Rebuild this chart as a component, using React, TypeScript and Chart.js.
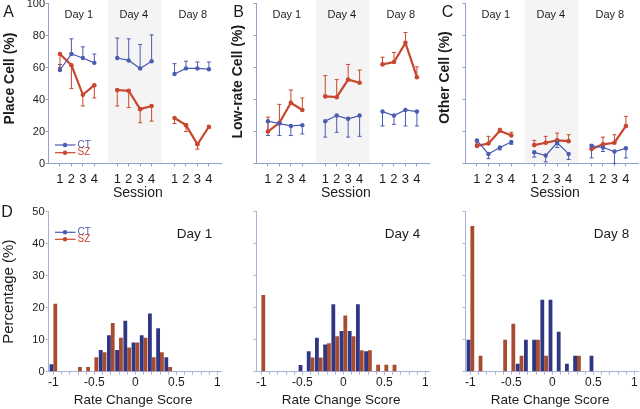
import React, { useEffect, useRef } from "react";
import { Chart, registerables } from "chart.js";

Chart.register(...registerables);

const FONT = "'Liberation Sans', Arial, Helvetica, sans-serif";
const TEXT = "#1c1c1c";
const CT_LINE = "#4a5cb0";
const SZ_LINE = "#c8472e";
const CT_BAR = "#2f3785";
const SZ_BAR = "#a84c30";
const AXIS = "#93a0d2";
const AXIS_D = "#aab2da";
const SHADE = "#f4f4f4";

// ---------------- data: top row (A, B, C) ----------------
const sessionX = [1, 2, 3, 4, 6, 7, 8, 9, 11, 12, 13, 14];
const sessionLabels = ["1", "2", "3", "4", "1", "2", "3", "4", "1", "2", "3", "4"];
const dayNames = ["Day 1", "Day 4", "Day 8"];
const dayLabelX = [2.65, 7.45, 12.6];
const day4Band = [5.2, 9.85];
const yTicksTop = [0, 20, 40, 60, 80, 100];

const placeCT = [58.5, 68.5, 66, 63, 66, 64.5, 59.5, 64, 56, 59.5, 59.5, 59];
const placeCTErr = [62, 78, 73, 68.5, 78.5, 78, 74.5, 80.5, 62.5, 64, 63.5, 63.5];
const placeSZ = [68.5, 61.5, 43, 49, 46, 45.5, 34, 36, 28.5, 24, 12, 23];
const placeSZErr = [60, 47, 36, 41, 36, 35, 25.5, 26.5, 25, 20, 9, 22];

const lowCT = [26.5, 25, 23.5, 24, 26.5, 30, 28, 30, 32.5, 30, 33.5, 32.5];
const lowCTErr = [17.5, 17.5, 17.5, 18.5, 16.5, 19.5, 16.5, 17, 23.5, 24.5, 23.5, 23.5];
const lowSZ = [20, 25.5, 38, 33.5, 42, 41.5, 52.5, 50.5, 62, 63.5, 75.5, 54];
const lowSZErr = [29, 37, 46, 41, 55, 52.5, 62, 58.5, 66.5, 69.5, 82, 60.5];

const otherCT = [14.5, 6, 10, 13.5, 7, 5, 13, 6, 11, 10, 7.5, 9.5];
const otherCTErr = [12, 3, 8.5, 12, 4, 1, 10, 2.5, 3.5, 7.5, 0, 3.5];
const otherSZ = [11, 12.5, 20.5, 17.5, 11.5, 13, 14.5, 14, 9, 12, 13, 23.5];
const otherSZErr = [13, 17, 22, 19.5, 14.5, 17, 19, 18, 12, 16.5, 18, 29.5];

// ---------------- data: bottom row (D) ----------------
const rateBins = [-1, -0.9, -0.8, -0.7, -0.6, -0.5, -0.4, -0.3, -0.2, -0.1, 0, 0.1, 0.2, 0.3, 0.4, 0.5, 0.6, 0.7, 0.8, 0.9, 1];
const rateTickValues = [-1, -0.5, 0, 0.5, 1];
const rateTickLabels = ["-1", "-0.5", "0", "0.5", "1"];
const yTicksHist = [0, 10, 20, 30, 40, 50];

const day1CT = [2.3, 0, 0, 0, 0, 0, 6.8, 11.4, 6.8, 15.9, 9.1, 11.4, 18.2, 13.6, 4.5, 0, 0, 0, 0, 0, 0];
const day1SZ = [21.2, 0, 0, 1.5, 1.5, 4.5, 6.1, 15.2, 10.6, 7.6, 9.1, 10.6, 4.5, 6.1, 1.5, 0, 0, 0, 0, 0, 0];
const day4CT = [0, 0, 0, 0, 0, 2.1, 6.4, 10.6, 8.5, 21.1, 12.7, 12.7, 21.1, 6.4, 0, 0, 0, 0, 0, 0, 0];
const day4SZ = [24.0, 0, 0, 0, 0, 0, 4.4, 4.4, 8.9, 11.1, 17.6, 11.1, 6.7, 6.7, 2.2, 2.2, 2.2, 0, 0, 0, 0];
const day8CT = [10, 0, 0, 0, 0, 0, 2.5, 10, 10, 22.5, 22.5, 12.5, 2.5, 5, 0, 5, 0, 0, 0, 0, 0];
const day8SZ = [45.5, 5, 0, 0, 10, 15, 5, 0, 10, 5, 0, 0, 0, 5, 0, 0, 0, 0, 0, 0, 0];

// ---------------- layout ----------------
const colLeft = [48.5, 256.5, 465.5];
const Y_AXIS_W = 48.5;
const AREA_W = 173;
const CANVAS_W = 226;

type Txt = { t: string; x: number; y: number; size: number; bold?: boolean; rot?: boolean; color?: string; align?: CanvasTextAlign };

function drawText(ctx: CanvasRenderingContext2D, s: Txt, ox: number, oy: number) {
  ctx.save();
  ctx.font = `${s.bold ? "bold " : ""}${s.size}px ${FONT}`;
  ctx.fillStyle = s.color || TEXT;
  ctx.textAlign = s.align || "center";
  ctx.textBaseline = "middle";
  ctx.translate(s.x - ox, s.y - oy);
  if (s.rot) ctx.rotate(-Math.PI / 2);
  ctx.fillText(s.t, 0, 0);
  ctx.restore();
}

function drawLegend(ctx: CanvasRenderingContext2D, ox: number, oy: number, y1: number, y2: number) {
  const items = [
    { label: "CT", color: CT_LINE, y: y1 },
    { label: "SZ", color: SZ_LINE, y: y2 },
  ];
  for (const it of items) {
    ctx.save();
    ctx.strokeStyle = it.color;
    ctx.lineWidth = 1.2;
    ctx.beginPath();
    ctx.moveTo(55 - ox, it.y - oy);
    ctx.lineTo(75.5 - ox, it.y - oy);
    ctx.stroke();
    ctx.fillStyle = it.color;
    ctx.beginPath();
    ctx.arc(65 - ox, it.y - oy, 2.2, 0, Math.PI * 2);
    ctx.fill();
    ctx.restore();
    drawText(ctx, { t: it.label, x: 77.5, y: it.y, size: 10, color: it.color, align: "left" }, ox, oy);
  }
}

function toPoints(vals: number[]) {
  const pts: { x: number; y: number | null }[] = [];
  vals.forEach((v, i) => {
    pts.push({ x: sessionX[i], y: v });
    if (i === 3 || i === 7) pts.push({ x: sessionX[i] + 1, y: null });
  });
  return pts;
}

type LineSpec = {
  col: number;
  letter: string;
  letterPos: [number, number];
  yTitle: string;
  yTitlePos: [number, number];
  ct: number[];
  ctErr: number[];
  sz: number[];
  szErr: number[];
  yLabels: boolean;
  legend: boolean;
};

const TOP_CANVAS_TOP = -20;
const TOP_CANVAS_H = 240;
const TOP_AREA_TOP = 3.7;
const TOP_AREA_BOTTOM = 163.5;

function buildLine(spec: LineSpec, ox: number, oy: number): any {
  const overlay = {
    id: "overlay",
    beforeDraw(chart: any) {
      const ctx = chart.ctx as CanvasRenderingContext2D;
      const x = chart.scales.x;
      const a = x.getPixelForValue(day4Band[0]);
      const b = x.getPixelForValue(day4Band[1]);
      ctx.save();
      ctx.fillStyle = SHADE;
      ctx.fillRect(a, 0, b - a, chart.chartArea.bottom - 1);
      ctx.restore();
    },
    beforeDatasetsDraw(chart: any) {
      const ctx = chart.ctx as CanvasRenderingContext2D;
      const x = chart.scales.x;
      const y = chart.scales.y;
      const sets = [
        { vals: spec.ct, ends: spec.ctErr, color: CT_LINE },
        { vals: spec.sz, ends: spec.szErr, color: SZ_LINE },
      ];
      ctx.save();
      ctx.lineWidth = 1;
      for (const s of sets) {
        ctx.strokeStyle = s.color;
        s.vals.forEach((v, i) => {
          const px = x.getPixelForValue(sessionX[i]);
          const y0 = y.getPixelForValue(v);
          const y1 = y.getPixelForValue(s.ends[i]);
          ctx.beginPath();
          ctx.moveTo(px, y0);
          ctx.lineTo(px, y1);
          ctx.moveTo(px - 2, y1);
          ctx.lineTo(px + 2, y1);
          ctx.stroke();
        });
      }
      ctx.restore();
    },
    afterDraw(chart: any) {
      const ctx = chart.ctx as CanvasRenderingContext2D;
      const x = chart.scales.x;
      dayNames.forEach((d, i) => {
        drawText(ctx, { t: d, x: x.getPixelForValue(dayLabelX[i]) + ox, y: 15, size: 11 }, ox, oy);
      });
      drawText(ctx, { t: spec.letter, x: spec.letterPos[0], y: spec.letterPos[1], size: 16 }, ox, oy);
      drawText(ctx, { t: spec.yTitle, x: spec.yTitlePos[0], y: spec.yTitlePos[1], size: 14, bold: true, rot: true }, ox, oy);
      drawText(ctx, { t: "Session", x: colLeft[spec.col] + 89.3, y: 193, size: 14 }, ox, oy);
      if (spec.legend) drawLegend(ctx, ox, oy, 145, 152.7);
    },
  };

  return {
    type: "line",
    data: {
      datasets: [
        {
          label: "CT",
          data: toPoints(spec.ct),
          borderColor: CT_LINE,
          backgroundColor: CT_LINE,
          borderWidth: 1.2,
          pointRadius: 2.2,
          pointBorderWidth: 0,
          pointBackgroundColor: CT_LINE,
          spanGaps: false,
          tension: 0,
        },
        {
          label: "SZ",
          data: toPoints(spec.sz),
          borderColor: SZ_LINE,
          backgroundColor: SZ_LINE,
          borderWidth: 2.2,
          pointRadius: 2.3,
          pointBorderWidth: 0,
          pointBackgroundColor: SZ_LINE,
          spanGaps: false,
          tension: 0,
        },
      ],
    },
    options: {
      responsive: false,
      animation: false,
      devicePixelRatio: 1,
      layout: { padding: { top: TOP_AREA_TOP - TOP_CANVAS_TOP, right: CANVAS_W - Y_AXIS_W - AREA_W, bottom: 0, left: 0 } },
      plugins: { legend: { display: false }, tooltip: { enabled: false } },
      scales: {
        x: {
          type: "linear",
          min: 0,
          max: 15.1,
          afterBuildTicks: (ax: any) => {
            ax.ticks = sessionX.map((v) => ({ value: v }));
          },
          afterFit: (s: any) => {
            s.height = TOP_CANVAS_H - (TOP_AREA_BOTTOM - TOP_CANVAS_TOP);
          },
          ticks: {
            autoSkip: false,
            maxRotation: 0,
            padding: 5.5,
            color: TEXT,
            font: { family: FONT, size: 13 },
            callback: (v: number) => {
              const k = sessionX.indexOf(v);
              return k >= 0 ? sessionLabels[k] : "";
            },
          },
          grid: { drawOnChartArea: false, drawTicks: true, tickLength: 3, color: AXIS },
          border: { display: true, color: AXIS, width: 1 },
        },
        y: {
          type: "linear",
          min: 0,
          max: 100,
          afterBuildTicks: (ax: any) => {
            ax.ticks = yTicksTop.map((v) => ({ value: v }));
          },
          afterFit: (s: any) => {
            s.width = Y_AXIS_W;
          },
          ticks: {
            autoSkip: false,
            padding: 0.5,
            color: TEXT,
            font: { family: FONT, size: 11 },
            callback: (v: number) => (spec.yLabels ? String(v) : ""),
          },
          grid: { drawOnChartArea: false, drawTicks: true, tickLength: 3, color: AXIS },
          border: { display: true, color: AXIS, width: 1 },
        },
      },
    },
    plugins: [overlay],
  };
}

type HistSpec = {
  col: number;
  ct: number[];
  sz: number[];
  day: string;
  first: boolean;
};

const BOT_CANVAS_TOP = 190;
const BOT_CANVAS_H = 230;
const BOT_AREA_TOP = 211.7;
const BOT_AREA_BOTTOM = 371.7;

function buildHist(spec: HistSpec, ox: number, oy: number): any {
  const overlay = {
    id: "overlay",
    afterDraw(chart: any) {
      const ctx = chart.ctx as CanvasRenderingContext2D;
      drawText(ctx, { t: spec.day, x: colLeft[spec.col] + 146, y: 234, size: 13.5 }, ox, oy);
      drawText(ctx, { t: "Rate Change Score", x: colLeft[spec.col] + 84.6, y: 400, size: 13.5 }, ox, oy);
      if (spec.first) {
        drawText(ctx, { t: "D", x: 7, y: 213, size: 16 }, ox, oy);
        drawText(ctx, { t: "Percentage (%)", x: 8.5, y: 291.7, size: 15, rot: true }, ox, oy);
        drawLegend(ctx, ox, oy, 232.3, 239.3);
      }
    },
  };
  return {
    type: "bar",
    data: {
      datasets: [
        {
          label: "CT",
          data: rateBins.map((b, i) => ({ x: b, y: spec.ct[i] })),
          backgroundColor: CT_BAR,
          borderWidth: 0,
          categoryPercentage: 0.93,
          barPercentage: 1,
        },
        {
          label: "SZ",
          data: rateBins.map((b, i) => ({ x: b, y: spec.sz[i] })),
          backgroundColor: SZ_BAR,
          borderWidth: 0,
          categoryPercentage: 0.93,
          barPercentage: 1,
        },
      ],
    },
    options: {
      responsive: false,
      animation: false,
      devicePixelRatio: 1,
      layout: { padding: { top: BOT_AREA_TOP - BOT_CANVAS_TOP, right: CANVAS_W - Y_AXIS_W - AREA_W, bottom: 0, left: 0 } },
      plugins: { legend: { display: false }, tooltip: { enabled: false } },
      scales: {
        x: {
          type: "linear",
          min: -1.06,
          max: 1.05,
          offset: false,
          afterBuildTicks: (ax: any) => {
            ax.ticks = rateBins.map((v) => ({ value: v }));
          },
          afterFit: (s: any) => {
            s.height = BOT_CANVAS_H - (BOT_AREA_BOTTOM - BOT_CANVAS_TOP);
          },
          ticks: {
            autoSkip: false,
            maxRotation: 0,
            padding: 1,
            color: TEXT,
            font: { family: FONT, size: 12 },
            callback: (v: number) => {
              const k = rateTickValues.findIndex((t) => Math.abs(t - v) < 1e-9);
              return k >= 0 ? rateTickLabels[k] : "";
            },
          },
          grid: { offset: false, drawOnChartArea: false, drawTicks: true, tickLength: 3, color: AXIS_D },
          border: { display: true, color: AXIS_D, width: 1 },
        },
        y: {
          type: "linear",
          min: 0,
          max: 50,
          afterBuildTicks: (ax: any) => {
            ax.ticks = yTicksHist.map((v) => ({ value: v }));
          },
          afterFit: (s: any) => {
            s.width = Y_AXIS_W;
          },
          ticks: {
            autoSkip: false,
            padding: 1,
            color: TEXT,
            font: { family: FONT, size: 11 },
            callback: (v: number) => (spec.first ? String(v) : ""),
          },
          grid: { drawOnChartArea: false, drawTicks: true, tickLength: 3, color: AXIS_D },
          border: { display: true, color: AXIS_D, width: 1 },
        },
      },
    },
    plugins: [overlay],
  };
}

function ChartBox(props: { left: number; top: number; width: number; height: number; make: (ox: number, oy: number) => any }) {
  const ref = useRef<HTMLCanvasElement>(null);
  const { left, top, width, height, make } = props;
  useEffect(() => {
    if (!ref.current) return;
    const chart = new Chart(ref.current, make(left, top));
    return () => chart.destroy();
  }, []);
  return (
    <div style={{ position: "absolute", left, top, width, height }}>
      <canvas ref={ref} width={width} height={height} style={{ width, height, display: "block" }} />
    </div>
  );
}

const lineSpecs: LineSpec[] = [
  { col: 0, letter: "A", letterPos: [8.5, 13], yTitle: "Place Cell (%)", yTitlePos: [10, 78.5], ct: placeCT, ctErr: placeCTErr, sz: placeSZ, szErr: placeSZErr, yLabels: true, legend: true },
  { col: 1, letter: "B", letterPos: [238.5, 12.5], yTitle: "Low-rate Cell (%)", yTitlePos: [238.3, 81.7], ct: lowCT, ctErr: lowCTErr, sz: lowSZ, szErr: lowSZErr, yLabels: false, legend: false },
  { col: 2, letter: "C", letterPos: [447.5, 12.5], yTitle: "Other Cell (%)", yTitlePos: [445, 77.5], ct: otherCT, ctErr: otherCTErr, sz: otherSZ, szErr: otherSZErr, yLabels: false, legend: false },
];

const histSpecs: HistSpec[] = [
  { col: 0, ct: day1CT, sz: day1SZ, day: "Day 1", first: true },
  { col: 1, ct: day4CT, sz: day4SZ, day: "Day 4", first: false },
  { col: 2, ct: day8CT, sz: day8SZ, day: "Day 8", first: false },
];

export default function App() {
  return (
    <div style={{ position: "fixed", left: 0, top: 0, width: 640, height: 409, overflow: "hidden", background: "#ffffff" }}>
      {lineSpecs.map((s) => (
        <ChartBox
          key={"l" + s.col}
          left={colLeft[s.col] - Y_AXIS_W}
          top={TOP_CANVAS_TOP}
          width={CANVAS_W}
          height={TOP_CANVAS_H}
          make={(ox, oy) => buildLine(s, ox, oy)}
        />
      ))}
      {histSpecs.map((s) => (
        <ChartBox
          key={"h" + s.col}
          left={colLeft[s.col] - Y_AXIS_W}
          top={BOT_CANVAS_TOP}
          width={CANVAS_W}
          height={BOT_CANVAS_H}
          make={(ox, oy) => buildHist(s, ox, oy)}
        />
      ))}
    </div>
  );
}
